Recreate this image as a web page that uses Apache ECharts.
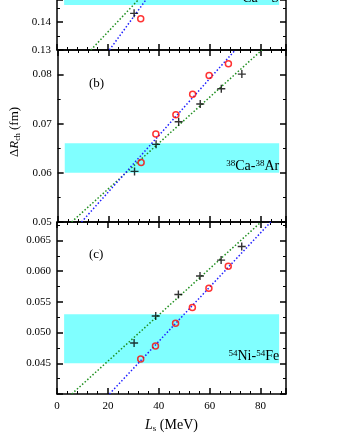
<!DOCTYPE html>
<html>
<head>
<meta charset="utf-8">
<script src="https://cdn.jsdelivr.net/npm/echarts@6/dist/echarts.min.js"></script>
<style>
html, body { margin: 0; padding: 0; background: #fff; }
#chart { width: 340px; height: 440px; }
</style>
</head>
<body>
<div id="chart"></div>
<script>
// L_s (MeV) of the model points
const lsCircle = [32.9, 38.7, 46.6, 53.2, 59.7, 67.3];
const lsPlus = [30.3, 38.8, 47.7, 56.2, 64.5, 72.6];

// panel (a) 36Ca-36S : only the lowest points are inside the view
const dRchA_circle = [0.1412];
const dRchA_plus = [0.1431];
// panel (b) 38Ca-38Ar
const dRchB_circle = [0.0621, 0.0679, 0.0718, 0.0760, 0.0798, 0.0822];
const dRchB_plus = [0.0603, 0.0658, 0.0704, 0.0740, 0.0771, 0.0801];
// panel (c) 54Ni-54Fe
const dRchC_circle = [0.0457, 0.0478, 0.0515, 0.0541, 0.0572, 0.0608];
const dRchC_plus = [0.0483, 0.0527, 0.0562, 0.0592, 0.0618, 0.0640];

// linear fits (end points, [L_s, dRch])
const fitA_green = [[13.3, 0.13], [44.5, 0.16]];
const fitA_blue = [[20.6, 0.13], [44.6, 0.16]];
const fitB_green = [[5.5, 0.05], [80.5, 0.085]];
const fitB_blue = [[9.4, 0.05], [70.0, 0.085]];
const fitC_green = [[5.8, 0.04], [80.2, 0.068]];
const fitC_blue = [[20.6, 0.04], [84.0, 0.068]];

// experimental bands
const bandX = [2.8, 87.3];
const bandA = [0.1461, 0.1479];
const bandB = [0.060, 0.066];
const bandC = [0.045, 0.053];
const bandNames = ['{s|36}{t|Ca-}{s|36}{t|S}', '{s|38}{t|Ca-}{s|38}{t|Ar}', '{s|54}{t|Ni-}{s|54}{t|Fe}'];

// axis ranges: min, max, interval, decimals
const xTicks = [0, 20, 40, 60, 80];
const yRanges = [[0.13, 0.14786, 0.01, 2], [0.05, 0.085, 0.01, 2], [0.04, 0.068, 0.005, 3]];

const serif = 'Liberation Serif';
const chart = echarts.init(document.getElementById('chart'));

// panel (a) is cut by the top edge of the picture
const grids = [
    { left: 57, right: 54, top: 0, height: 50 },
    { left: 57, right: 54, top: 50, height: 172 },
    { left: 57, right: 54, top: 222, height: 172 }
];

const lineSt = { color: '#000', width: 1.5 };

function mkX(gi, pos, showLabel) {
    return {
        type: 'value', gridIndex: gi, position: pos,
        show: !(gi === 0 && pos === 'top'),
        min: xTicks[0], max: 90, interval: 20,
        axisLine: { show: true, onZero: false, lineStyle: lineSt },
        axisTick: { show: true, inside: true, length: 6, lineStyle: lineSt },
        minorTick: { show: true, splitNumber: 5, length: 3, lineStyle: { color: '#000', width: 1 } },
        splitLine: { show: false },
        axisLabel: { show: showLabel, margin: 7, showMaxLabel: false, color: '#000', fontFamily: serif, fontSize: 11 }
    };
}

function mkY(gi, pos, showLabel) {
    const r = yRanges[gi];
    return {
        type: 'value', gridIndex: gi, position: pos,
        min: r[0], max: r[1], interval: r[2],
        axisLine: { show: true, onZero: false, lineStyle: lineSt },
        axisTick: { show: true, inside: true, length: 6, lineStyle: lineSt },
        minorTick: { show: true, splitNumber: 2, length: 3, lineStyle: { color: '#000', width: 1 } },
        splitLine: { show: false },
        axisLabel: {
            show: showLabel, margin: 6, showMaxLabel: false, showMinLabel: gi !== 2,
            color: '#000', fontFamily: serif, fontSize: 11,
            formatter: v => v.toFixed(r[3])
        }
    };
}

const xAxes = [], yAxes = [];
for (let i = 0; i < 3; i++) {
    xAxes.push(mkX(i, 'bottom', i === 2));
    xAxes.push(mkX(i, 'top', false));
    yAxes.push(mkY(i, 'left', true));
    yAxes.push(mkY(i, 'right', false));
}

// axis names
Object.assign(xAxes[4], {
    name: '{i|L}{sub|s}{n| (MeV)}', nameLocation: 'middle', nameGap: 24,
    nameTextStyle: {
        rich: {
            i: { fontFamily: serif, fontStyle: 'italic', fontSize: 14, color: '#000' },
            sub: { fontFamily: serif, fontSize: 9, color: '#000', verticalAlign: 'bottom', padding: [6, 0, 0, 0] },
            n: { fontFamily: serif, fontSize: 14, color: '#000' }
        }
    }
});
Object.assign(yAxes[2], {
    name: '{d|Δ}{i|R}{sub|ch}{n| (fm)}', nameLocation: 'middle', nameGap: 28, nameRotate: 90,
    nameTextStyle: {
        padding: [0, 0, 0, 8],
        rich: {
            d: { fontFamily: serif, fontSize: 13, color: '#000' },
            i: { fontFamily: serif, fontStyle: 'italic', fontSize: 13, color: '#000' },
            sub: { fontFamily: serif, fontSize: 8, color: '#000', verticalAlign: 'bottom', padding: [6, 0, 0, 0] },
            n: { fontFamily: serif, fontSize: 13, color: '#000' }
        }
    }
});

const plusPath = 'path://M3.3,0h1.4v3.3h3.3v1.4h-3.3v3.3h-1.4v-3.3h-3.3v-1.4h3.3z';

function pts(xs, ys) {
    return ys.map((y, i) => [xs[i], y]);
}

const panels = [
    { circle: dRchA_circle, plus: dRchA_plus, green: fitA_green, blue: fitA_blue, band: bandA },
    { circle: dRchB_circle, plus: dRchB_plus, green: fitB_green, blue: fitB_blue, band: bandB },
    { circle: dRchC_circle, plus: dRchC_plus, green: fitC_green, blue: fitC_blue, band: bandC }
];

const series = [];
panels.forEach((p, i) => {
    const ax = { xAxisIndex: i * 2, yAxisIndex: i * 2 };
    series.push(Object.assign({
        type: 'line', data: p.green, symbol: 'none', silent: true, z: 3,
        lineStyle: { color: '#1f8f1f', width: 1.5, type: [1.5, 2] },
        markArea: {
            silent: true,
            itemStyle: { color: '#80ffff' },
            label: {
                show: true, position: 'insideBottomRight', distance: 0,
                formatter: bandNames[i],
                rich: {
                    s: { fontFamily: serif, fontSize: 9, color: '#000', verticalAlign: 'top', lineHeight: 14 },
                    t: { fontFamily: serif, fontSize: 14, color: '#000', verticalAlign: 'bottom', lineHeight: 14 }
                }
            },
            data: [[{ xAxis: bandX[0], yAxis: p.band[0] }, { xAxis: bandX[1], yAxis: p.band[1] }]]
        }
    }, ax));
    series.push(Object.assign({
        type: 'line', data: p.blue, symbol: 'none', silent: true, z: 3,
        lineStyle: { color: '#2020ff', width: 1.5, type: [1.5, 2] }
    }, ax));
    series.push(Object.assign({
        type: 'scatter', data: pts(lsPlus, p.plus), symbol: plusPath, symbolSize: 8, z: 4,
        itemStyle: { color: '#000' }
    }, ax));
    series.push(Object.assign({
        type: 'scatter', data: pts(lsCircle, p.circle), symbol: 'circle', symbolSize: 6, z: 5,
        itemStyle: { color: 'rgba(255,255,255,0)', borderColor: '#ff0000', borderWidth: 1.5 }
    }, ax));
});

chart.setOption({
    animation: false,
    backgroundColor: '#fff',
    title: [
        { text: '(b)', left: 89, top: 77, padding: 0, textStyle: { fontFamily: serif, fontSize: 13, fontWeight: 'normal', color: '#000' } },
        { text: '(c)', left: 89, top: 248, padding: 0, textStyle: { fontFamily: serif, fontSize: 13, fontWeight: 'normal', color: '#000' } }
    ],
    grid: grids,
    xAxis: xAxes,
    yAxis: yAxes,
    series: series
});
window.addEventListener('resize', chart.resize);
</script>
</body>
</html>
